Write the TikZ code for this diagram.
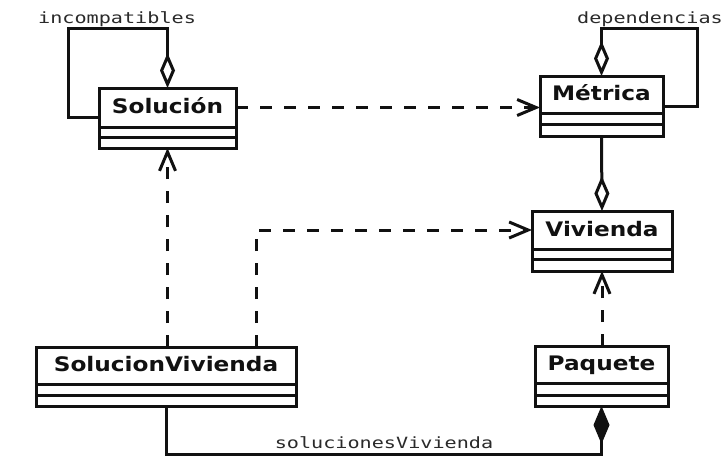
\documentclass[tikz,border=0pt]{standalone}
\usepackage{fontspec}
\usetikzlibrary{arrows.meta}
\newfontfamily\clsfont[FakeStretch=1.16,BoldFont={DejaVu Sans Bold}]{DejaVu Sans}
\newfontfamily\lblfont[FakeStretch=1.3]{DejaVu Sans Mono}
\definecolor{ink}{HTML}{111111}
\definecolor{lblgray}{HTML}{2A2A2A}
\tikzset{
  hdr/.style={draw=ink, line width=3pt, rectangle, inner sep=0pt, outer sep=0pt,
    anchor=north west, text=ink, text height=15pt, text depth=3pt,
    font=\clsfont\bfseries\fontsize{20}{24}\selectfont},
  cmp/.style={draw=ink, line width=3pt, rectangle, inner sep=0pt, outer sep=0pt,
    anchor=north west},
  lbl/.style={inner sep=0pt, text=lblgray, font=\lblfont\fontsize{15.5}{18}\selectfont},
  solidcon/.style={draw=ink, line width=3pt, line join=miter},
  agg/.style={solidcon, {Diamond[fill=white,length=35pt,width=15pt]}-},
  compo/.style={solidcon, {Diamond[fill=ink,length=38pt,width=16pt]}-},
  dep/.style={draw=ink, line width=3pt, dash pattern=on 12pt off 12pt,
    -{Straight Barb[length=19pt,width=16pt,line join=miter]}},
}
\begin{document}
\begin{tikzpicture}[x=1pt,y=-1pt]
\useasboundingbox[fill=white] (0,0) rectangle (723,461);

% classes
\node[hdr, minimum width=137pt, minimum height=39pt] (sol) at (99,88) {Solución};
\node[cmp, minimum width=137pt, minimum height=10pt] (sol1) at (sol.south west) {};
\node[cmp, minimum width=137pt, minimum height=11pt] (sol2) at (sol1.south west) {};

\node[hdr, minimum width=123pt, minimum height=37pt] (met) at (540,76) {Métrica};
\node[cmp, minimum width=123pt, minimum height=11pt] (met1) at (met.south west) {};
\node[cmp, minimum width=123pt, minimum height=12pt] (met2) at (met1.south west) {};

\node[hdr, minimum width=140pt, minimum height=38pt] (viv) at (532,211) {Vivienda};
\node[cmp, minimum width=140pt, minimum height=10pt] (viv1) at (viv.south west) {};
\node[cmp, minimum width=140pt, minimum height=12pt] (viv2) at (viv1.south west) {};

\node[hdr, minimum width=260pt, minimum height=37pt] (sv) at (36,347) {SolucionVivienda};
\node[cmp, minimum width=260pt, minimum height=11pt] (sv1) at (sv.south west) {};
\node[cmp, minimum width=260pt, minimum height=11pt] (sv2) at (sv1.south west) {};

\node[hdr, minimum width=133pt, minimum height=37pt] (paq) at (535,346) {Paquete};
\node[cmp, minimum width=133pt, minimum height=12pt] (paq1) at (paq.south west) {};
\node[cmp, minimum width=133pt, minimum height=11pt] (paq2) at (paq1.south west) {};

% loop corners
\coordinate (il) at (68,28);
\coordinate (dl) at (697,28);
\coordinate (cb) at (384,454);

% self aggregations
\draw[agg] (sol.north) |- (il) |- ([yshift=-9.5pt]sol.west);
\draw[agg] (met.north) |- (dl) |- ([yshift=-11.5pt]met.east);
\node[lbl, anchor=base west] (inc) at (38,23) {incompatibles};
\node[lbl, anchor=base west] (dpd) at (577,23) {dependencias};

% Metrica - Vivienda aggregation
\draw[agg] (viv.north) -- (met2.south);

% dependencies
\draw[dep] (sol.east) -- (sol.east -| met.west);
\draw[dep] (sol2.south |- sv.north) -- (sol2.south);
\draw[dep] ([xshift=90pt]sv.north) |- (viv.west);
\draw[dep] (viv2.south |- paq.north) -- (viv2.south);

% composition
\draw[compo] (paq2.south) |- (cb) -| (sv2.south);
\node[lbl, anchor=base] (sollbl) at (384,448) {solucionesVivienda};
\end{tikzpicture}
\end{document}
